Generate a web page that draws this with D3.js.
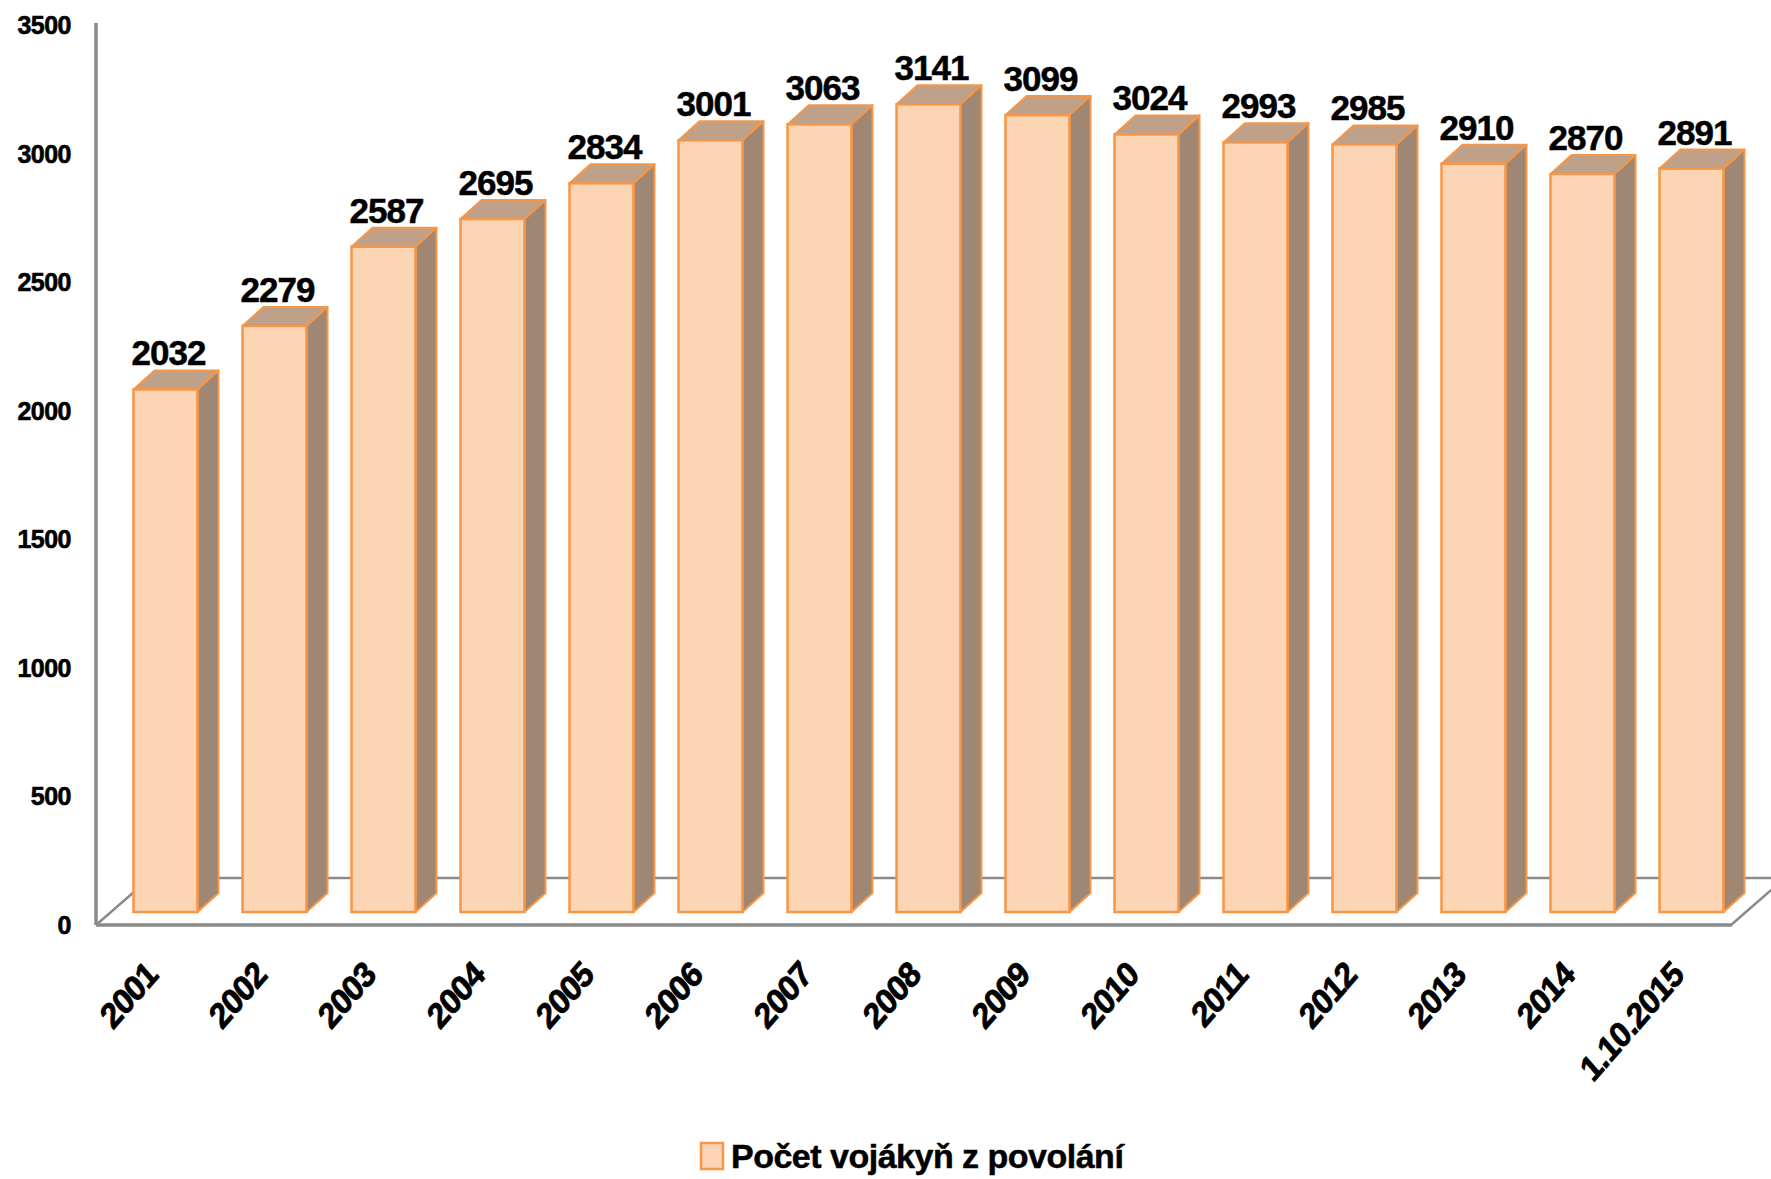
<!DOCTYPE html>
<html>
<head>
<meta charset="utf-8">
<script src="https://cdn.jsdelivr.net/npm/d3@7"></script>
<style>
  body { margin: 0; background: #fff; }
  text { font-family: "Liberation Sans", Arial, sans-serif; font-weight: bold; fill: #000; stroke: #000; }
</style>
</head>
<body>
<svg id="chart" width="1771" height="1179"></svg>
<script>
// data
const years = ['2001', '2002', '2003', '2004', '2005', '2006', '2007', '2008',
  '2009', '2010', '2011', '2012', '2013', '2014', '1.10.2015'];
const counts = [2032, 2279, 2587, 2695, 2834, 3001, 3063, 3141,
  3099, 3024, 2993, 2985, 2910, 2870, 2891];
const yTicks = [0, 500, 1000, 1500, 2000, 2500, 3000, 3500];
const seriesName = 'Počet vojákyň z povolání';

const svg = d3.select('#chart');

// front plane of the box
const left = 96, right = 1731, floorY = 925, topY = 25;
// how far back the bars sit, and their own depth
const barShift = {x: 15, y: -13};
const depth = {x: 21, y: -19};
const floorDepth = {x: 54, y: -47};

const xScale = d3.scaleBand()
  .domain(years)
  .range([left, right])
  .paddingInner(0.413)
  .paddingOuter(0.2065);

const yScale = d3.scaleLinear()
  .domain([0, 3500])
  .range([floorY, topY]);

const gray = '#8a8a8a';

// floor
const floor = svg.append('g');
floor.append('path')
  .attr('d', `M${left},${floorY} L${left + floorDepth.x},${floorY + floorDepth.y} L${right + floorDepth.x},${floorY + floorDepth.y} L${right},${floorY}`)
  .attr('fill', 'none')
  .attr('stroke', gray)
  .attr('stroke-width', 2.5);
floor.append('line')
  .attr('x1', left).attr('x2', right + 1)
  .attr('y1', floorY).attr('y2', floorY)
  .attr('stroke', gray).attr('stroke-width', 3.5);

// value axis
svg.append('line')
  .attr('x1', left).attr('x2', left)
  .attr('y1', topY - 2).attr('y2', floorY)
  .attr('stroke', gray).attr('stroke-width', 3.5);

svg.append('g').selectAll('text')
  .data(yTicks)
  .join('text')
  .attr('x', 71)
  .attr('y', d => yScale(d) + 9)
  .attr('text-anchor', 'end')
  .attr('font-size', 25)
  .attr('stroke-width', 0.6)
  .attr('letter-spacing', -0.5)
  .text(d => d);

// bars
const bars = svg.append('g').selectAll('g')
  .data(years.map((y, i) => ({year: y, value: counts[i]})))
  .join('g');

const fx = d => xScale(d.year) + barShift.x;
const bw = xScale.bandwidth();
const baseY = floorY + barShift.y;
const topOf = d => baseY - (floorY - yScale(d.value));

// top face
bars.append('path')
  .attr('d', d => {
    const x = fx(d), t = topOf(d);
    return `M${x},${t} L${x + depth.x},${t + depth.y} L${x + bw + depth.x},${t + depth.y} L${x + bw},${t} Z`;
  })
  .attr('fill', '#bfa089')
  .attr('stroke', '#f79646')
  .attr('stroke-width', 2)
  .attr('stroke-linejoin', 'round');

// side face
bars.append('path')
  .attr('d', d => {
    const x = fx(d) + bw, t = topOf(d);
    return `M${x},${t} L${x + depth.x},${t + depth.y} L${x + depth.x},${baseY + depth.y} L${x},${baseY} Z`;
  })
  .attr('fill', '#a08773')
  .attr('stroke', '#f79646')
  .attr('stroke-width', 2)
  .attr('stroke-linejoin', 'round');

// front face
bars.append('rect')
  .attr('x', fx)
  .attr('y', topOf)
  .attr('width', bw)
  .attr('height', d => baseY - topOf(d))
  .attr('fill', '#fcd5b5')
  .attr('stroke', '#f79646')
  .attr('stroke-width', 2.5);

// value labels
bars.append('text')
  .attr('x', d => fx(d) + bw / 2 + 3)
  .attr('y', d => topOf(d) - 24)
  .attr('text-anchor', 'middle')
  .attr('font-size', 35)
  .attr('stroke-width', 0.5)
  .attr('letter-spacing', -1)
  .text(d => d.value);

// category labels, rotated (the original picture is a bit squeezed sideways)
svg.append('g').selectAll('text')
  .data(years)
  .join('text')
  .attr('transform', d => `translate(${xScale(d) + barShift.x + bw / 2 - 6},${977}) scale(1,1.15) rotate(-45)`)
  .attr('text-anchor', 'end')
  .attr('font-size', 31)
  .attr('stroke-width', 0.8)
  .attr('letter-spacing', -0.8)
  .text(d => d);

// legend
const legend = svg.append('g').attr('transform', 'translate(701,1143)');
legend.append('rect')
  .attr('width', 22).attr('height', 26)
  .attr('fill', '#fcd5b5')
  .attr('stroke', '#f79646')
  .attr('stroke-width', 2.5);
legend.append('text')
  .attr('x', 30)
  .attr('y', 25)
  .attr('font-size', 34)
  .attr('stroke-width', 0.5)
  .attr('letter-spacing', -0.5)
  .text(seriesName);
</script>
</body>
</html>
